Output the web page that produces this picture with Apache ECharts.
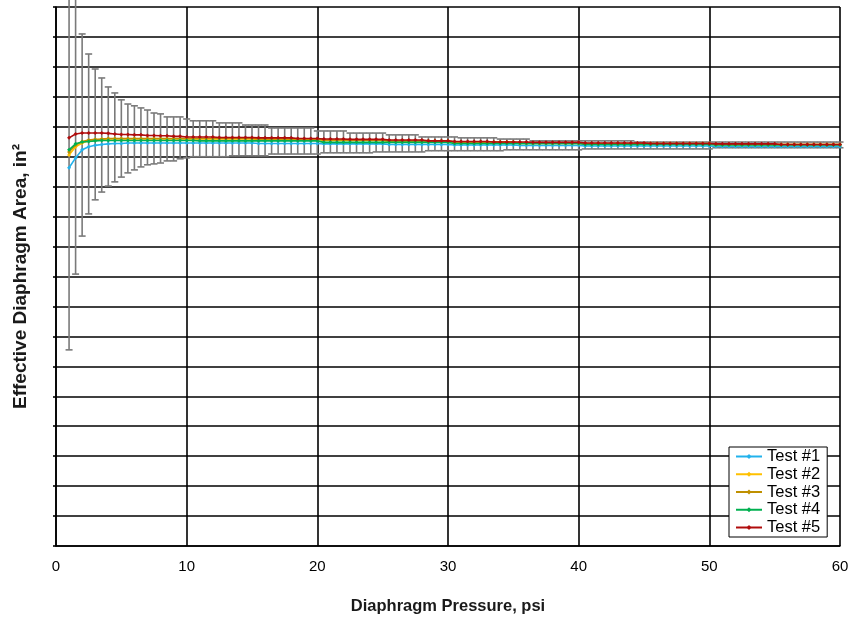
<!DOCTYPE html>
<html>
<head>
<meta charset="utf-8">
<script src="https://cdn.jsdelivr.net/npm/echarts@6/dist/echarts.min.js"></script>
<style>
  html, body { margin: 0; padding: 0; background: #fff; }
  #chart { width: 853px; height: 620px; }
</style>
</head>
<body>
<div id="chart"></div>
<script>
// Diaphragm pressure readings (psi)
const pressure = [
  1, 1.5, 2, 2.5, 3, 3.5, 4, 4.5, 5, 5.5,
  6, 6.5, 7, 7.5, 8, 8.5, 9, 9.5, 10, 10.5,
  11, 11.5, 12, 12.5, 13, 13.5, 14, 14.5, 15, 15.5,
  16, 16.5, 17, 17.5, 18, 18.5, 19, 19.5, 20, 20.5,
  21, 21.5, 22, 22.5, 23, 23.5, 24, 24.5, 25, 25.5,
  26, 26.5, 27, 27.5, 28, 28.5, 29, 29.5, 30, 30.5,
  31, 31.5, 32, 32.5, 33, 33.5, 34, 34.5, 35, 35.5,
  36, 36.5, 37, 37.5, 38, 38.5, 39, 39.5, 40, 40.5,
  41, 41.5, 42, 42.5, 43, 43.5, 44, 44.5, 45, 45.5,
  46, 46.5, 47, 47.5, 48, 48.5, 49, 49.5, 50, 50.5,
  51, 51.5, 52, 52.5, 53, 53.5, 54, 54.5, 55, 55.5,
  56, 56.5, 57, 57.5, 58, 58.5, 59, 59.5, 60
];

// Effective area per test (grid units)
const test1 = [
  12.63, 12.96, 13.23, 13.33, 13.38, 13.41, 13.43, 13.44, 13.44, 13.46,
  13.46, 13.46, 13.46, 13.46, 13.46, 13.46, 13.46, 13.46, 13.46, 13.46,
  13.46, 13.46, 13.46, 13.46, 13.46, 13.46, 13.46, 13.46, 13.46, 13.44,
  13.44, 13.44, 13.44, 13.44, 13.44, 13.44, 13.44, 13.44, 13.44, 13.43,
  13.43, 13.43, 13.43, 13.43, 13.43, 13.43, 13.43, 13.43, 13.43, 13.41,
  13.41, 13.41, 13.41, 13.41, 13.41, 13.41, 13.41, 13.41, 13.41, 13.39,
  13.39, 13.39, 13.39, 13.39, 13.39, 13.39, 13.39, 13.39, 13.39, 13.38,
  13.38, 13.38, 13.38, 13.38, 13.38, 13.38, 13.38, 13.38, 13.38, 13.36,
  13.36, 13.36, 13.36, 13.36, 13.36, 13.36, 13.36, 13.36, 13.36, 13.36,
  13.36, 13.36, 13.36, 13.36, 13.36, 13.36, 13.36, 13.36, 13.36, 13.34,
  13.34, 13.34, 13.34, 13.34, 13.34, 13.34, 13.34, 13.34, 13.34, 13.34,
  13.34, 13.34, 13.34, 13.34, 13.34, 13.34, 13.34, 13.34, 13.34
];
const test2 = [
  13.06, 13.33, 13.46, 13.53, 13.56, 13.58, 13.59, 13.59, 13.59, 13.59,
  13.59, 13.59, 13.59, 13.59, 13.59, 13.59, 13.59, 13.59, 13.59, 13.59,
  13.59, 13.59, 13.59, 13.59, 13.59, 13.59, 13.59, 13.59, 13.59, 13.58,
  13.58, 13.58, 13.58, 13.58, 13.58, 13.58, 13.58, 13.58, 13.58, 13.54,
  13.54, 13.54, 13.54, 13.54, 13.54, 13.54, 13.54, 13.54, 13.54, 13.51,
  13.51, 13.51, 13.51, 13.51, 13.51, 13.51, 13.51, 13.51, 13.51, 13.48,
  13.48, 13.48, 13.48, 13.48, 13.48, 13.48, 13.48, 13.48, 13.48, 13.44,
  13.44, 13.44, 13.44, 13.44, 13.44, 13.44, 13.44, 13.44, 13.44, 13.43,
  13.43, 13.43, 13.43, 13.43, 13.43, 13.43, 13.43, 13.43, 13.43, 13.43,
  13.43, 13.43, 13.43, 13.43, 13.43, 13.43, 13.43, 13.43, 13.43, 13.41,
  13.41, 13.41, 13.41, 13.41, 13.41, 13.41, 13.41, 13.41, 13.41, 13.41,
  13.41, 13.41, 13.41, 13.41, 13.41, 13.41, 13.41, 13.41, 13.41
];
const test3 = [
  13.16, 13.39, 13.51, 13.56, 13.58, 13.59, 13.61, 13.61, 13.61, 13.61,
  13.61, 13.61, 13.61, 13.61, 13.61, 13.61, 13.61, 13.61, 13.61, 13.61,
  13.61, 13.61, 13.61, 13.61, 13.61, 13.61, 13.61, 13.61, 13.61, 13.59,
  13.59, 13.59, 13.59, 13.59, 13.59, 13.59, 13.59, 13.59, 13.59, 13.56,
  13.56, 13.56, 13.56, 13.56, 13.56, 13.56, 13.56, 13.56, 13.56, 13.53,
  13.53, 13.53, 13.53, 13.53, 13.53, 13.53, 13.53, 13.53, 13.53, 13.49,
  13.49, 13.49, 13.49, 13.49, 13.49, 13.49, 13.49, 13.49, 13.49, 13.46,
  13.46, 13.46, 13.46, 13.46, 13.46, 13.46, 13.46, 13.46, 13.46, 13.44,
  13.44, 13.44, 13.44, 13.44, 13.44, 13.44, 13.44, 13.44, 13.44, 13.44,
  13.44, 13.44, 13.44, 13.44, 13.44, 13.44, 13.44, 13.44, 13.44, 13.41,
  13.41, 13.41, 13.41, 13.41, 13.41, 13.41, 13.41, 13.41, 13.41, 13.41,
  13.41, 13.41, 13.41, 13.41, 13.41, 13.41, 13.41, 13.41, 13.41
];
const test4 = [
  13.23, 13.43, 13.49, 13.51, 13.53, 13.54, 13.54, 13.54, 13.54, 13.54,
  13.54, 13.54, 13.54, 13.54, 13.54, 13.54, 13.54, 13.54, 13.54, 13.54,
  13.53, 13.53, 13.53, 13.53, 13.53, 13.53, 13.53, 13.53, 13.53, 13.53,
  13.53, 13.53, 13.53, 13.53, 13.53, 13.53, 13.53, 13.53, 13.53, 13.48,
  13.48, 13.48, 13.48, 13.48, 13.48, 13.48, 13.48, 13.48, 13.48, 13.48,
  13.48, 13.48, 13.48, 13.48, 13.48, 13.48, 13.48, 13.48, 13.48, 13.44,
  13.44, 13.44, 13.44, 13.44, 13.44, 13.44, 13.44, 13.44, 13.44, 13.44,
  13.44, 13.44, 13.44, 13.44, 13.44, 13.44, 13.44, 13.44, 13.44, 13.41,
  13.41, 13.41, 13.41, 13.41, 13.41, 13.41, 13.41, 13.41, 13.41, 13.41,
  13.41, 13.41, 13.41, 13.41, 13.41, 13.41, 13.41, 13.41, 13.41, 13.39,
  13.39, 13.39, 13.39, 13.39, 13.39, 13.39, 13.39, 13.39, 13.39, 13.39,
  13.39, 13.39, 13.39, 13.39, 13.39, 13.39, 13.39, 13.39, 13.39
];
const test5 = [
  13.63, 13.76, 13.79, 13.79, 13.79, 13.79, 13.78, 13.76, 13.74, 13.74,
  13.73, 13.73, 13.71, 13.71, 13.70, 13.70, 13.68, 13.68, 13.66, 13.66,
  13.66, 13.66, 13.66, 13.64, 13.64, 13.64, 13.64, 13.64, 13.64, 13.63,
  13.63, 13.63, 13.63, 13.63, 13.63, 13.61, 13.61, 13.61, 13.61, 13.59,
  13.59, 13.59, 13.59, 13.58, 13.58, 13.58, 13.58, 13.58, 13.58, 13.56,
  13.56, 13.56, 13.56, 13.56, 13.56, 13.53, 13.53, 13.53, 13.53, 13.51,
  13.51, 13.51, 13.51, 13.51, 13.51, 13.49, 13.49, 13.49, 13.49, 13.49,
  13.49, 13.48, 13.48, 13.48, 13.48, 13.48, 13.48, 13.48, 13.48, 13.46,
  13.46, 13.46, 13.46, 13.46, 13.46, 13.46, 13.46, 13.46, 13.46, 13.44,
  13.44, 13.44, 13.44, 13.44, 13.44, 13.44, 13.44, 13.44, 13.44, 13.43,
  13.43, 13.43, 13.43, 13.43, 13.43, 13.43, 13.43, 13.43, 13.43, 13.41,
  13.41, 13.41, 13.41, 13.41, 13.41, 13.41, 13.41, 13.41, 13.41
];

// Uncertainty band: upper and lower bound at each pressure
const errHigh = [
  20.90, 18.40, 17.10, 16.43, 15.93, 15.63, 15.33, 15.13, 14.90, 14.76,
  14.70, 14.63, 14.56, 14.46, 14.43, 14.33, 14.33, 14.33, 14.26, 14.20,
  14.20, 14.20, 14.20, 14.13, 14.13, 14.13, 14.13, 14.06, 14.06, 14.06,
  14.06, 13.96, 13.96, 13.96, 13.96, 13.96, 13.96, 13.96, 13.86, 13.86,
  13.86, 13.86, 13.86, 13.79, 13.79, 13.79, 13.79, 13.79, 13.79, 13.73,
  13.73, 13.73, 13.73, 13.73, 13.66, 13.66, 13.66, 13.66, 13.66, 13.66,
  13.63, 13.63, 13.63, 13.63, 13.63, 13.63, 13.59, 13.59, 13.59, 13.59,
  13.59, 13.53, 13.53, 13.53, 13.53, 13.53, 13.53, 13.53, 13.53, 13.53,
  13.53, 13.53, 13.53, 13.53, 13.53, 13.53, 13.53, 13.49, 13.49, 13.49,
  13.49, 13.49, 13.49, 13.49, 13.49, 13.49, 13.49, 13.49, 13.49, 13.49,
  13.49, 13.49, 13.49, 13.49, 13.49, 13.49, 13.49, 13.49, 13.49, 13.49,
  13.49, 13.49, 13.49, 13.49, 13.49, 13.49, 13.49, 13.49, 13.49
];
const errLow = [
   6.55,  9.08, 10.35, 11.09, 11.56, 11.82, 12.02, 12.16, 12.32, 12.46,
  12.56, 12.66, 12.73, 12.76, 12.79, 12.86, 12.86, 12.93, 12.96, 13.00,
  13.00, 13.00, 13.00, 13.00, 13.00, 13.03, 13.03, 13.03, 13.03, 13.03,
  13.03, 13.09, 13.09, 13.09, 13.09, 13.09, 13.09, 13.09, 13.09, 13.13,
  13.13, 13.13, 13.13, 13.13, 13.13, 13.13, 13.13, 13.16, 13.16, 13.16,
  13.16, 13.16, 13.16, 13.16, 13.16, 13.20, 13.20, 13.20, 13.20, 13.20,
  13.20, 13.20, 13.20, 13.20, 13.20, 13.20, 13.20, 13.23, 13.23, 13.23,
  13.23, 13.23, 13.23, 13.23, 13.23, 13.23, 13.23, 13.23, 13.23, 13.26,
  13.26, 13.26, 13.26, 13.26, 13.26, 13.26, 13.26, 13.26, 13.26, 13.26,
  13.26, 13.26, 13.26, 13.26, 13.26, 13.26, 13.26, 13.26, 13.26, 13.30,
  13.30, 13.30, 13.30, 13.30, 13.30, 13.30, 13.30, 13.30, 13.30, 13.30,
  13.30, 13.30, 13.30, 13.30, 13.30, 13.30, 13.30, 13.30, 13.30
];

const xTicks = [0, 10, 20, 30, 40, 50, 60];

const seriesNames = ['Test #1', 'Test #2', 'Test #3', 'Test #4', 'Test #5'];
const seriesValues = [test1, test2, test3, test4, test5];
const seriesColors = ['#22B2EC', '#FFC000', '#BF9000', '#00B050', '#B00C0C'];

const FONT = 'Liberation Sans, Arial, sans-serif';

const chart = echarts.init(document.getElementById('chart'), null, { renderer: 'canvas' });

const lineSeries = seriesNames.map((name, k) => ({
  name: name,
  type: 'line',
  data: pressure.map((p, i) => [p, seriesValues[k][i]]),
  symbol: 'diamond',
  symbolSize: 4,
  showSymbol: true,
  lineStyle: { width: 1.6, color: seriesColors[k] },
  itemStyle: { color: seriesColors[k] },
  z: 3 + k
}));

// Vertical range bars with short caps at both ends
const errorSeries = {
  type: 'custom',
  name: 'range',
  clip: false,
  silent: true,
  z: 2,
  data: pressure.map((p, i) => [p, errLow[i], errHigh[i]]),
  encode: { x: 0, y: [1, 2] },
  renderItem: function (params, api) {
    const x = api.value(0);
    const lo = api.coord([x, api.value(1)]);
    const hi = api.coord([x, api.value(2)]);
    const half = 3.5;
    const style = { stroke: '#7A7A7A', lineWidth: 1.6, fill: null };
    return {
      type: 'group',
      children: [
        { type: 'line', shape: { x1: lo[0], y1: lo[1], x2: hi[0], y2: hi[1] }, style: style },
        { type: 'line', shape: { x1: lo[0] - half, y1: lo[1], x2: lo[0] + half, y2: lo[1] }, style: style },
        { type: 'line', shape: { x1: hi[0] - half, y1: hi[1], x2: hi[0] + half, y2: hi[1] }, style: style }
      ]
    };
  }
};

chart.setOption({
  animation: false,
  backgroundColor: '#ffffff',
  textStyle: { fontFamily: FONT },
  grid: {
    left: 56, right: 13, top: 7, bottom: 74,
    containLabel: false,
    show: false
  },
  legend: {
    data: seriesNames,
    orient: 'vertical',
    left: 729,
    top: 447,
    padding: [1, 7, 1, 6],
    itemWidth: 26,
    itemHeight: 6,
    itemGap: 0.75,
    backgroundColor: '#ffffff',
    borderColor: '#000000',
    borderWidth: 1,
    borderRadius: 0,
    textStyle: {
      fontFamily: FONT,
      fontSize: 16.5,
      color: '#000000',
      lineHeight: 16
    }
  },
  xAxis: {
    type: 'value',
    min: xTicks[0],
    max: xTicks[xTicks.length - 1],
    interval: 10,
    name: 'Diaphragm Pressure, psi',
    nameLocation: 'middle',
    nameGap: 52,
    nameTextStyle: {
      fontFamily: FONT,
      fontSize: 16.5,
      fontWeight: 'bold',
      color: '#1a1a1a'
    },
    axisLine: { show: true, lineStyle: { color: '#000', width: 1.6 } },
    axisTick: { show: false },
    axisLabel: {
      margin: 13,
      fontSize: 15,
      color: '#000',
      fontFamily: FONT
    },
    splitLine: { show: true, lineStyle: { color: '#000', width: 1.6 } }
  },
  yAxis: {
    type: 'value',
    min: 0,
    max: 18,
    interval: 1,
    name: 'Effective Diaphragm Area, in²',
    nameLocation: 'middle',
    nameGap: 26,
    nameTextStyle: {
      fontFamily: FONT,
      fontSize: 19,
      fontWeight: 'bold',
      color: '#1a1a1a'
    },
    axisLine: { show: true, lineStyle: { color: '#000', width: 1.6 } },
    axisTick: { show: true, length: 3, inside: false, lineStyle: { color: '#000', width: 1.6 } },
    axisLabel: { show: false },
    splitLine: { show: true, lineStyle: { color: '#000', width: 1.6 } }
  },
  series: [errorSeries].concat(lineSeries)
});
</script>
</body>
</html>
